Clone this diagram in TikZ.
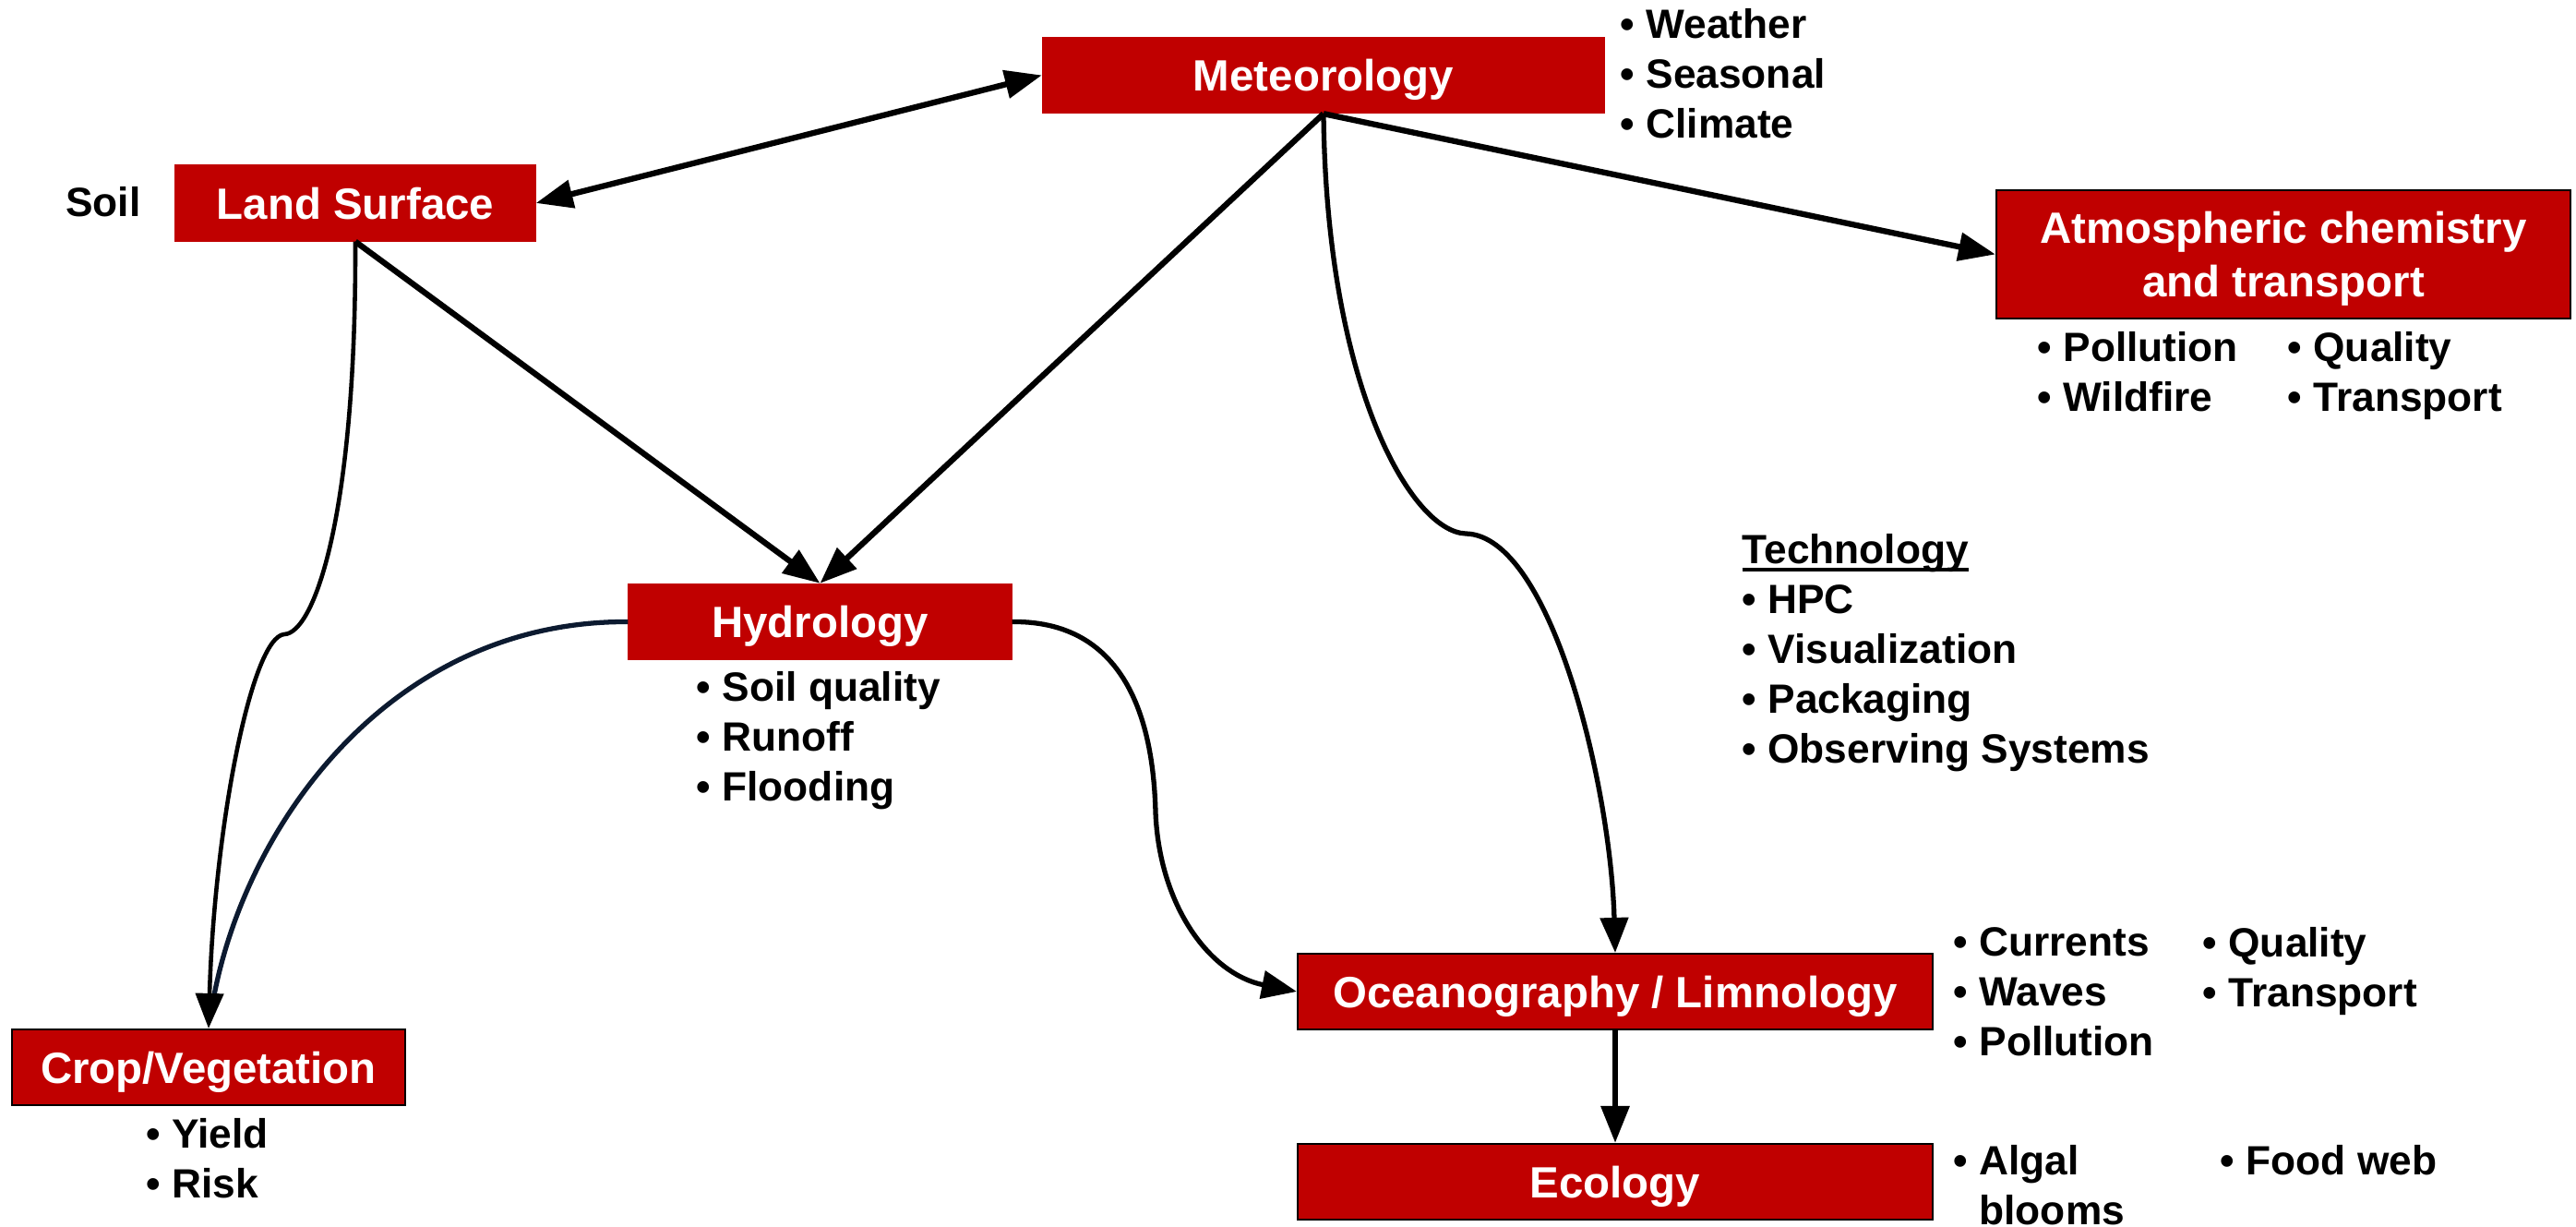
\documentclass[tikz,border=0pt]{standalone}
\usepackage{fontspec}
\setmainfont{Liberation Sans}
\usepackage{xcolor}
\usepackage{tikz}
\usetikzlibrary{arrows.meta,positioning,calc}

\definecolor{boxred}{RGB}{192,0,0}
\definecolor{navyline}{RGB}{12,26,48}
\newcommand{\boxfont}{\fontsize{13.5}{16.5}\selectfont\bfseries}
\newcommand{\listfont}{\fontsize{12.6}{15.4}\selectfont\bfseries}
\newcommand{\thickul}[1]{\setbox0=\hbox{#1}\rlap{\rule[-0.2em]{\wd0}{0.09em}}\box0}

\begin{document}
\begin{tikzpicture}[
    boxbase/.style={rectangle, fill=boxred, text=white, font=\boxfont, inner sep=0pt},
    box/.style={boxbase, draw=boxred, minimum height=0.82cm, text height=9.7pt, text depth=0pt},
    boxb/.style={box, draw=black, line width=0.6pt},
    list/.style={anchor=west, align=left, inner sep=0pt, font=\listfont},
    arrow/.style={line width=1.8pt, ->, >={Triangle[length=0.4cm,width=0.3cm]}},
    curve/.style={line width=1.5pt, ->, >={Triangle[length=0.38cm,width=0.3cm]}}
]
\useasboundingbox (0,0) rectangle (27.91,-13.29);

% Boxes
\node[box, minimum width=6.09cm] (met) at (14.34,-0.815) {Meteorology};
\node[box, minimum width=3.90cm] (land) at (3.85,-2.20) {Land Surface};
\node[box, minimum width=4.15cm] (hydro) at (8.885,-6.735) {Hydrology};
\node[boxb, minimum width=4.26cm] (crop) at (2.26,-11.56) {Crop/Vegetation};
\node[boxbase, draw=black, line width=0.6pt, minimum width=6.22cm, minimum height=1.39cm, align=center] (atmos) at (24.74,-2.755) {\rule{0pt}{0.93em}Atmospheric chemistry\\and transport};
\node[boxb, minimum width=6.88cm] (ocean) at (17.5,-10.74) {Oceanography / Limnology};
\node[boxb, minimum width=6.88cm] (eco) at (17.5,-12.80) {Ecology};

% Notes
\node[list, anchor=center] (soil) at (1.12,-2.19) {Soil};
\node[list] (metnotes) at (17.55,-0.80) {• Weather\\• Seasonal\\• Climate};
\node[list] (atmosnotesa) at (22.07,-4.03) {• Pollution\\• Wildfire};
\node[list, anchor=north west] (atmosnotesb) at (24.78,0 |- atmosnotesa.north) {• Quality\\• Transport};
\node[list] (hydronotes) at (7.54,-8.02) {• Soil quality\\• Runoff\\• Flooding};
\node[list] (cropnotes) at (1.58,-12.55) {• Yield\\• Risk};
\node[list] (technotes) at (18.87,-7.07) {\thickul{Technology}\\• HPC\\• Visualization\\• Packaging\\• Observing Systems};
\node[list] (oceannotesa) at (21.16,-10.74) {• Currents\\• Waves\\• Pollution};
\node[list, anchor=north west] (oceannotesb) at (23.86,0 |- oceannotesa.north) {• Quality\\• Transport};
\node[list] (econotesa) at (21.16,-12.84) {• Algal\\\hphantom{• }blooms};
\node[list, anchor=north west] (econotesb) at (24.05,0 |- econotesa.north) {• Food web};

% Bends
\coordinate (soilbend) at (3.08,-6.87);
\coordinate (hydrobend) at (12.52,-8.80);
\coordinate (metbend) at (15.88,-5.78);

% Arrows
\draw[arrow, <->] (land.east) -- (met.west);
\draw[arrow] (met.south) -- (atmos.west);
\draw[arrow] (met.south) -- (hydro.north);
\draw[arrow] (land.south) -- (hydro.north);
\draw[arrow] (ocean.south) -- (eco.north);

\draw[curve, -, navyline, shorten >=0.2cm] (hydro.west) .. controls (4.2,-6.72) and (2.6,-9.0) .. (crop.north);
\draw[curve, line width=1.3pt] (land.south) .. controls (3.86,-5.6) and (3.40,-6.86) .. (soilbend)
    .. controls (2.72,-6.9) and (2.32,-9.0) .. (crop.north);
\draw[curve] (hydro.east) .. controls (12.3,-6.72) and (12.5,-8.0) .. (hydrobend)
    .. controls (12.56,-9.8) and (13.1,-10.55) .. (ocean.west);
\draw[curve] (met.south) .. controls (14.37,-4.2) and (15.3,-5.76) .. (metbend)
    .. controls (16.8,-5.8) and (17.45,-8.5) .. (ocean.north);

\end{tikzpicture}
\end{document}
